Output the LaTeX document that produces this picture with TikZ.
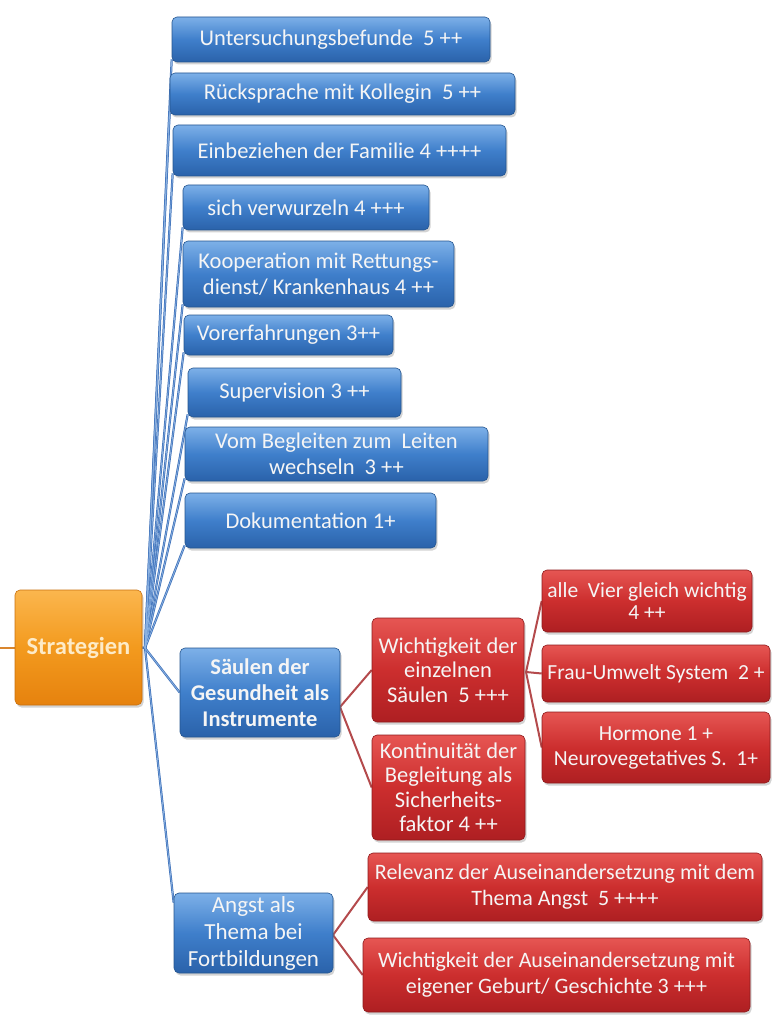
\documentclass[tikz,border=0pt]{standalone}
\usepackage{fontspec}
\setmainfont{Carlito}
\usetikzlibrary{shadows,backgrounds}
\definecolor{btop}{HTML}{7DB0E8}
\definecolor{bmid}{HTML}{3F7FCB}
\definecolor{bbot}{HTML}{2A62AA}
\definecolor{bdraw}{HTML}{24558F}
\definecolor{rtop}{HTML}{E65653}
\definecolor{rmid}{HTML}{CC2E2E}
\definecolor{rbot}{HTML}{AE1F22}
\definecolor{rdraw}{HTML}{8E1A1C}
\definecolor{otop}{HTML}{FBB64E}
\definecolor{omid}{HTML}{F39A1E}
\definecolor{obot}{HTML}{E6820E}
\definecolor{odraw}{HTML}{C8700F}
\definecolor{blink}{HTML}{3F72BA}
\definecolor{blinkin}{HTML}{8DB3E2}
\definecolor{rlink}{HTML}{B44A4C}
\definecolor{olink}{HTML}{D9862E}
\definecolor{stxt}{HTML}{FDEBC8}
\begin{document}
\begin{tikzpicture}[x=1pt,y=-1pt,
 box/.style={rounded corners=5pt, align=center, inner sep=0pt, text=white!96!black,
   drop shadow={shadow xshift=1.5pt,shadow yshift=-2.5pt,opacity=0.35}},
 bbox/.style={box, top color=btop, bottom color=bbot, middle color=bmid, draw=bdraw, line width=0.6pt,
   font=\fontsize{22.5}{25.5}\selectfont},
 rbox/.style={box, top color=rtop, bottom color=rbot, middle color=rmid, draw=rdraw, line width=0.6pt,
   font=\fontsize{22.5}{24.5}\selectfont},
 obox/.style={box, top color=otop, bottom color=obot, middle color=omid, draw=odraw, line width=0.6pt,
   text=stxt, font=\fontsize{24.5}{28}\selectfont\bfseries},
 bl/.style={blink, line width=2.2pt},
 blin/.style={blinkin, line width=0.7pt},
 rl/.style={rlink, line width=2pt},
 sz/.style 2 args={minimum width=#1pt, minimum height=#2pt},
]
\useasboundingbox (0,0) rectangle (771,1016);
% blue boxes
\node[bbox, sz={318}{45}] (b1) at (331,39.5) {Untersuchungsbefunde\ \ 5 ++};
\node[bbox, sz={345}{42}] (b2) at (342.5,94) {Rücksprache mit Kollegin\ \ 5 ++};
\node[bbox, sz={333}{51}] (b3) at (339.5,150.5) {Einbeziehen der Familie 4 ++++};
\node[bbox, sz={246}{45}] (b4) at (306,207.5) {sich verwurzeln 4 +++};
\node[bbox, sz={271}{66}] (b5) at (318.5,274) {Kooperation mit Rettungs-\\dienst/ Krankenhaus 4 ++};
\node[bbox, sz={209}{40}] (b6) at (288.5,335) {Vorerfahrungen 3++};
\node[bbox, sz={213}{49}] (b7) at (294.5,392.5) {Supervision 3 ++};
\node[bbox, sz={303}{54}] (b8) at (336.5,454) {Vom Begleiten zum\ \ Leiten\\wechseln\ \ 3 ++};
\node[bbox, sz={251}{55}] (b9) at (310.5,520.5) {Dokumentation 1+};
% root
\node[obox, sz={127}{115}] (strat) at (78.5,647.5) {Strategien};
% blue sub-roots
\node[bbox, sz={160}{89}, font=\fontsize{22.5}{26}\selectfont\bfseries] (saeulen) at (260,692.5) {Säulen der\\Gesundheit als\\Instrumente};
\node[bbox, sz={159}{80}, font=\fontsize{23}{27}\selectfont] (angst) at (253.5,933) {Angst als\\Thema bei\\Fortbildungen};
% red boxes
\node[rbox, sz={152}{104}] (r1) at (448,670) {Wichtigkeit der\\einzelnen\\Säulen\ \ 5 +++};
\node[rbox, sz={153}{105}] (r2) at (448.5,787.5) {Kontinuität der\\Begleitung als\\Sicherheits-\\faktor 4 ++};
\node[rbox, sz={210}{62}, font=\fontsize{21.5}{22}\selectfont] (r3) at (647,601) {alle\ \ Vier gleich wichtig\\4 ++};
\node[rbox, sz={228}{57}, font=\fontsize{21.5}{22}\selectfont] (r4) at (656,673.5) {Frau-Umwelt System\ \ 2 +};
\node[rbox, sz={228}{71}, font=\fontsize{21.5}{25}\selectfont] (r5) at (656,747.5) {Hormone 1 +\\Neurovegetatives S.\ \ 1+};
\node[rbox, sz={394}{68}, font=\fontsize{22}{26}\selectfont] (r6) at (565,887) {Relevanz der Auseinandersetzung mit dem\\Thema Angst\ \ 5 ++++};
\node[rbox, sz={387}{74}, font=\fontsize{22}{26}\selectfont] (r7) at (556.5,975) {Wichtigkeit der Auseinandersetzung mit\\eigener Geburt/ Geschichte 3 +++};
% connectors
\coordinate (j) at (145,648);
\coordinate (stub) at (0,647.5);
\coordinate (js) at (340,707);
\coordinate (jr) at (526,672);
\coordinate (ja) at (333,935);
\begin{scope}[on background layer]
\draw[olink, line width=2pt] (stub) -- (strat.west);
\foreach \n in {b1,b2,b3,b4,b5,b6,b7,b8,b9}
  \draw[bl] (j) -- ([yshift=3pt]\n.south west);
\draw[bl] (strat.east) -- (j);
\draw[bl] (j) -- (saeulen.west);
\draw[bl] (j) -- ([yshift=-10pt]angst.north west);
\foreach \n in {b1,b2,b3,b4,b5,b6,b7,b8,b9}
  \draw[blin] (j) -- ([yshift=3pt]\n.south west);
\draw[blin] (j) -- (saeulen.west);
\draw[blin] (j) -- ([yshift=-10pt]angst.north west);
\draw[rl] (js) -- (r1.west);
\draw[rl] (js) -- (r2.west);
\draw[rl] (jr) -- (r3.west);
\draw[rl] (jr) -- (r4.west);
\draw[rl] (jr) -- (r5.west);
\draw[rl] (ja) -- (r6.west);
\draw[rl] (ja) -- (r7.west);
\end{scope}
\end{tikzpicture}
\end{document}
